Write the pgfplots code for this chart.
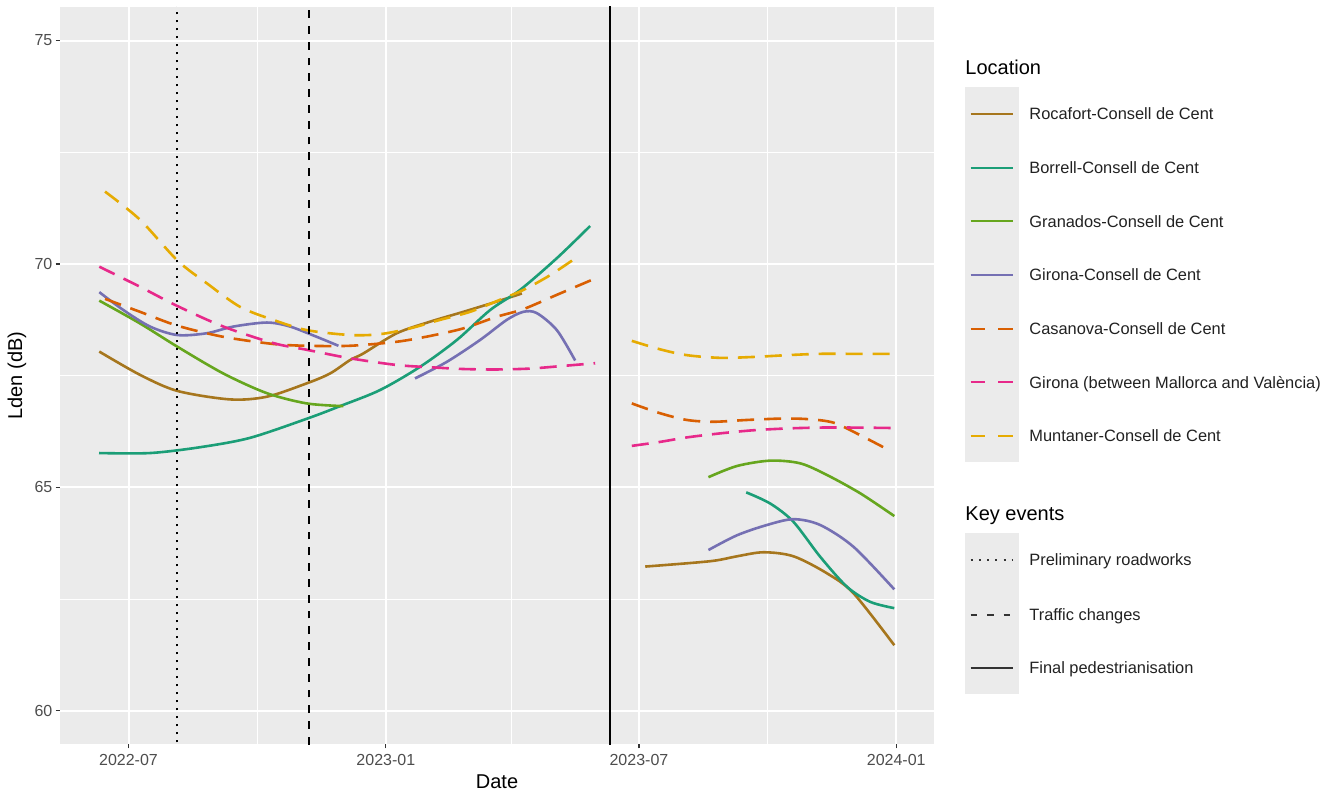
\documentclass[border=0pt]{standalone}
\usepackage{fontspec}
\setmainfont{Liberation Sans}
\usepackage{pgfplots}
\pgfplotsset{compat=1.18}
\definecolor{panelbg}{HTML}{EBEBEB}
\definecolor{gray30}{HTML}{4D4D4D}
\definecolor{gray20}{HTML}{333333}
\definecolor{cRoc}{HTML}{A6761D}
\definecolor{cBor}{HTML}{1B9E77}
\definecolor{cGra}{HTML}{66A61E}
\definecolor{cGir}{HTML}{7570B3}
\definecolor{cCas}{HTML}{D95F02}
\definecolor{cGMV}{HTML}{E7298A}
\definecolor{cMun}{HTML}{E6AB02}
\tikzset{ldash/.style={dash pattern=on 7.15pt off 6.7pt}, lsolid/.style={solid}}
\begin{document}
\begin{tikzpicture}
\path[use as bounding box] (-30pt,-24.5pt) rectangle (630.5pt,372pt);
\begin{axis}[
  at={(0,0)}, anchor=south west,
  scale only axis, width=437pt, height=368.5pt,
  xmin=-49, xmax=576, ymin=59.26, ymax=75.75,
  axis background/.style={fill=panelbg},
  axis line style={draw=none},
  grid=both,
  major grid style={white, line width=1pt},
  minor grid style={white, line width=0.5pt},
  xtick={0,184,365,549},
  xticklabels={2022-07,2023-01,2023-07,2024-01},
  minor xtick={92,274,457},
  ytick={60,65,70,75},
  minor ytick={62.5,67.5,72.5},
  tick align=outside, xtick pos=bottom, ytick pos=left,
  major tick length=2.2pt, minor tick length=0pt,
  tick style={color=gray20, line width=0.55pt},
  /pgf/number format/assume math mode=true,
  ticklabel style={font=\fontsize{8}{9.6}\selectfont, text=gray30},
  xticklabel style={inner sep=0pt, anchor=north, yshift=-2.8pt},
  yticklabel style={inner sep=0pt, anchor=east, xshift=-1.4pt},
  xlabel={Date}, ylabel={Lden (dB)},
  xlabel style={font=\fontsize{10}{12}\selectfont, at={(axis description cs:0.5,0)}, anchor=center, yshift=-19pt},
  ylabel style={font=\fontsize{10}{12}\selectfont, at={(axis description cs:0,0.5)}, anchor=center, yshift=21.5pt},
  every axis plot/.append style={line width=1.3pt, smooth, tension=0.5},
  cdash/.style={dash pattern=on 8.5pt off 5pt},
]
% Rocafort
\addplot[cRoc] coordinates {(-20.9,68.04)(8.2,67.52)(34.9,67.16)(72.6,66.97)(98.9,67.03)(127.5,67.33)(144.1,67.55)(158.4,67.85)(168.0,68.00)(191.8,68.45)(215.7,68.71)(239.5,68.93)(263.4,69.16)(281.3,69.34)};
\addplot[cRoc] coordinates {(369.5,63.23)(416.0,63.35)(435.1,63.46)(454.1,63.55)(475.5,63.46)(499.4,63.08)(518.5,62.63)(547.6,61.47)};
% Borrell
\addplot[cBor] coordinates {(-21.1,65.77)(15.4,65.77)(51.1,65.90)(86.9,66.11)(128.6,66.55)(151.3,66.82)(179.9,67.18)(208.5,67.70)(234.8,68.30)(258.6,68.97)(280.0,69.42)(306.3,70.13)(330.1,70.85)};
\addplot[cBor] coordinates {(441.7,64.89)(458.9,64.64)(475.5,64.23)(494.6,63.45)(513.7,62.78)(530.4,62.44)(547.6,62.30)};
% Granados
\addplot[cGra] coordinates {(-20.9,69.18)(8.2,68.67)(34.9,68.15)(67.8,67.55)(98.9,67.11)(127.5,66.88)(153.6,66.82)};
\addplot[cGra] coordinates {(414.7,65.23)(435.1,65.48)(458.9,65.60)(480.3,65.54)(499.4,65.28)(523.2,64.87)(547.6,64.36)};
% Girona
\addplot[cGir] coordinates {(-20.9,69.37)(-3.7,68.97)(15.4,68.60)(34.9,68.41)(55.9,68.45)(75.0,68.60)(98.9,68.69)(115.5,68.60)(134.6,68.37)(150.1,68.17)};
\addplot[cGir] coordinates {(204.9,67.44)(227.6,67.81)(251.4,68.30)(270.5,68.75)(282.4,68.93)(292.0,68.90)(306.3,68.52)(319.4,67.84)};
\addplot[cGir] coordinates {(414.7,63.60)(435.1,63.93)(456.5,64.16)(475.5,64.29)(494.6,64.16)(518.5,63.67)(547.6,62.72)};
% Casanova
\addplot[cCas, cdash] coordinates {(-16.8,69.22)(8.2,68.93)(34.9,68.62)(67.8,68.37)(103.6,68.21)(127.5,68.17)(158.4,68.17)(191.8,68.26)(215.7,68.39)(239.5,68.56)(263.4,68.82)(282.4,68.99)(306.3,69.31)(332.5,69.66)};
\addplot[cCas, cdash] coordinates {(359.9,66.88)(380.2,66.66)(399.3,66.51)(418.3,66.47)(442.2,66.51)(466.0,66.54)(485.1,66.53)(504.1,66.45)(523.2,66.17)(545.9,65.80)};
% Girona (between Mallorca and Valencia)
\addplot[cGMV, cdash] coordinates {(-20.9,69.94)(8.2,69.49)(34.9,69.06)(67.8,68.60)(103.6,68.23)(127.5,68.08)(158.4,67.89)(191.8,67.74)(215.7,67.69)(239.5,67.65)(263.4,67.64)(287.2,67.66)(311.0,67.72)(333.7,67.78)};
\addplot[cGMV, cdash] coordinates {(359.9,65.93)(380.2,66.02)(399.3,66.12)(423.1,66.21)(446.9,66.28)(470.8,66.32)(494.6,66.34)(518.5,66.34)(547.1,66.33)};
% Muntaner
\addplot[cMun, cdash] coordinates {(-16.8,71.62)(8.2,70.99)(34.9,70.08)(55.9,69.57)(79.8,69.04)(103.4,68.75)(127.5,68.52)(158.7,68.41)(179.9,68.43)(201.4,68.56)(222.8,68.75)(244.3,68.93)(265.7,69.20)(282.4,69.42)(301.5,69.75)(322.9,70.20)};
\addplot[cMun, cdash] coordinates {(359.9,68.28)(380.2,68.09)(399.3,67.96)(423.1,67.90)(446.9,67.92)(470.8,67.96)(494.6,67.99)(518.5,67.99)(547.1,67.99)};
% Key events
\addplot[black, line width=1pt, dash pattern=on 1pt off 3pt, sharp plot] coordinates {(35,55)(35,80)};
\addplot[black, line width=1pt, dash pattern=on 3.9pt off 4pt, sharp plot] coordinates {(129,55)(129,80)};
\addplot[black, line width=1pt, solid, sharp plot] coordinates {(344,55)(344,80)};
\end{axis}
% Legend: Location
\def\lx{455.35pt}\def\rx{476.65pt}\def\tx{484.5pt}
\node[anchor=base west, inner sep=0pt, font=\fontsize{10}{12}\selectfont] at (452.5pt,334.9pt) {Location};
\fill[panelbg] (452.5pt,141pt) rectangle (479.5pt,328.5pt);
\foreach \yy/\cc/\st/\tt in {315/cRoc/lsolid/Rocafort-Consell de Cent,
  288/cBor/lsolid/Borrell-Consell de Cent,
  261.35/cGra/lsolid/Granados-Consell de Cent,
  234.5/cGir/lsolid/Girona-Consell de Cent,
  207.5/cCas/ldash/Casanova-Consell de Cent,
  180.85/cGMV/ldash/Girona (between Mallorca and València),
  154/cMun/ldash/Muntaner-Consell de Cent}{
  \draw[color=\cc, line width=1.2pt, \st] (\lx,\yy pt) -- (\rx,\yy pt);
  \node[anchor=base west, inner sep=0pt, font=\fontsize{8.2}{9.8}\selectfont, text=black!87] at (\tx,\yy pt-2.94pt) {\tt};
}
% Legend: Key events
\node[anchor=base west, inner sep=0pt, font=\fontsize{10}{12}\selectfont] at (452.5pt,111.77pt) {Key events};
\fill[panelbg] (452.5pt,25pt) rectangle (479.5pt,105.5pt);
\draw[black!80, line width=1pt, dash pattern=on 1pt off 3.1pt] (\lx,92pt) -- (\rx,92pt);
\node[anchor=base west, inner sep=0pt, font=\fontsize{8.2}{9.8}\selectfont, text=black!87] at (\tx,89.06pt) {Preliminary roadworks};
\draw[black!80, line width=1pt, dash pattern=on 3.2pt off 5pt] (\lx,64.5pt) -- (\rx,64.5pt);
\node[anchor=base west, inner sep=0pt, font=\fontsize{8.2}{9.8}\selectfont, text=black!87] at (\tx,61.56pt) {Traffic changes};
\draw[black!80, line width=1pt] (\lx,38pt) -- (\rx,38pt);
\node[anchor=base west, inner sep=0pt, font=\fontsize{8.2}{9.8}\selectfont, text=black!87] at (\tx,35.06pt) {Final pedestrianisation};
\end{tikzpicture}
\end{document}
